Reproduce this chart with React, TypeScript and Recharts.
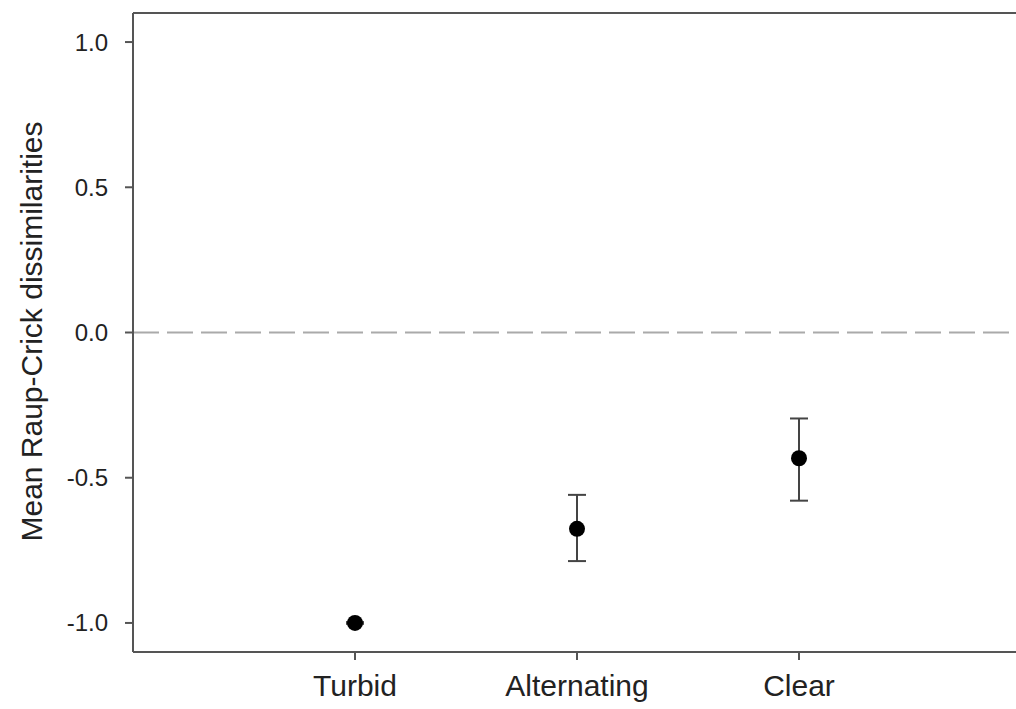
import { ScatterChart, Scatter, ErrorBar, XAxis, YAxis, ReferenceLine, Label } from "recharts";

const categories = ["Turbid", "Alternating", "Clear"];
const positions = [1, 2, 3];
const means = [-1.0, -0.676, -0.433];
const errLow = [0.003, 0.111, 0.146];
const errHigh = [0.003, 0.117, 0.137];
const yTicks = [-1.0, -0.5, 0.0, 0.5, 1.0];
const yLabel = "Mean Raup-Crick dissimilarities";

const data = categories.map((name, i) => ({
  name,
  x: positions[i],
  y: means[i],
  err: [errLow[i], errHigh[i]],
}));

const AXIS = "#555";
const FONT = "'Liberation Sans', Arial, sans-serif";

function Dot(props: any) {
  const { cx, cy } = props;
  return <circle cx={cx} cy={cy} r={8} fill="#000" />;
}

export default function App() {
  return (
    <div style={{ position: "absolute", left: 0, top: 0, width: 1016, height: 709, overflow: "hidden", background: "#fff" }}>
      <ScatterChart
        width={1030}
        height={709}
        margin={{ top: 13, right: 9, bottom: 0, left: 0 }}
        style={{ fontFamily: FONT }}
      >
        <XAxis
          type="number"
          dataKey="x"
          domain={[0, 4]}
          ticks={positions}
          tickFormatter={(v: number) => categories[positions.indexOf(v)] ?? ""}
          axisLine={{ stroke: AXIS, strokeWidth: 2 }}
          tickLine={{ stroke: AXIS, strokeWidth: 2 }}
          tickSize={8}
          tickMargin={15}
          tick={{ fill: "#222", fontSize: 30 }}
          height={57}
        />
        <YAxis
          type="number"
          dataKey="y"
          domain={[-1.1, 1.1]}
          ticks={yTicks}
          tickFormatter={(v: number) => v.toFixed(1)}
          axisLine={{ stroke: AXIS, strokeWidth: 2 }}
          tickLine={{ stroke: AXIS, strokeWidth: 2 }}
          tickSize={8}
          tickMargin={17}
          tick={{ fill: "#222", fontSize: 24 }}
          width={133}
        >
          <Label
            content={({ viewBox }: any) => {
              const cx = viewBox.x + 42;
              const cy = viewBox.y + viewBox.height / 2 - 1;
              return (
                <text
                  x={cx}
                  y={cy}
                  transform={`rotate(-90 ${cx} ${cy})`}
                  textAnchor="middle"
                  fontSize={30}
                  fill="#222"
                  fontFamily={FONT}
                >
                  {yLabel}
                </text>
              );
            }}
          />
        </YAxis>
        <ReferenceLine y={0} stroke="#aaa" strokeWidth={2} strokeDasharray="26 8" />
        <ReferenceLine y={1.1} stroke={AXIS} strokeWidth={2} />
        <ReferenceLine x={4} stroke={AXIS} strokeWidth={2} />
        <Scatter data={data} shape={<Dot />} isAnimationActive={false}>
          <ErrorBar dataKey="err" direction="y" width={9} stroke="#444" strokeWidth={2} />
        </Scatter>
      </ScatterChart>
    </div>
  );
}
